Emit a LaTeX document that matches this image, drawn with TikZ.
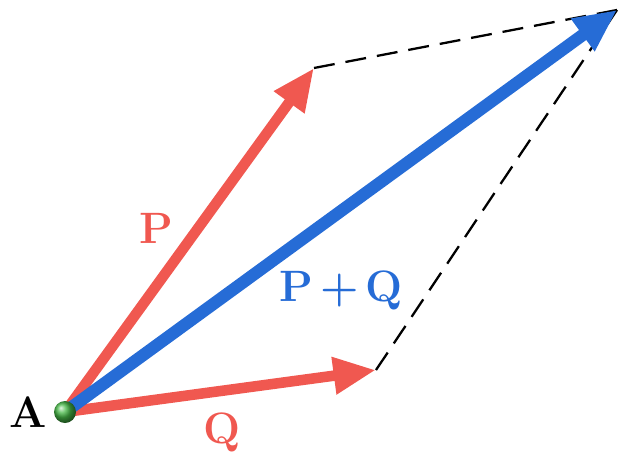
\documentclass[tikz,border=0pt]{standalone}
\usepackage{xcolor}
\usetikzlibrary{arrows.meta}
\definecolor{vecred}{RGB}{240,88,80}
\definecolor{vecblue}{RGB}{38,108,214}

\begin{document}
\begin{tikzpicture}[x=0.02cm,y=-0.02cm,
    force/.style={line width=6pt,color=vecred,-{Triangle[length=0.85cm,width=0.7cm]}},
    resultant/.style={line width=7pt,color=vecblue,-{Triangle[length=0.85cm,width=0.75cm]}},
    guide/.style={black,line width=1.3pt,dash pattern=on 0.42cm off 0.22cm},
    lbl/.style={font=\fontsize{25}{30}\selectfont\bfseries}]
    \useasboundingbox (0,0) rectangle (621,453);
    \coordinate (origin) at (65,412);
    \coordinate (tipP) at (314,68);
    \coordinate (tipQ) at (376,370);
    \coordinate (tipR) at (617,10);

    \draw[guide] (tipP) -- (tipR);
    \draw[guide] (tipQ) -- (tipR);

    \draw[force] (origin) -- (tipP);
    \draw[force] (origin) -- (tipQ);
    \draw[resultant] (origin) -- (tipR);

    \shade[ball color=green!45!gray] (origin) circle (11);

    \node (labelA) [lbl] at (28,412) {A};
    \node (labelP) [lbl, color=vecred] at (156,228) {P};
    \node (labelQ) [lbl, color=vecred] at (222,432) {Q};
    \node (labelPQ) [lbl, color=vecblue] at (341,290) {P\,+\,Q};
  \end{tikzpicture}
\end{document}
